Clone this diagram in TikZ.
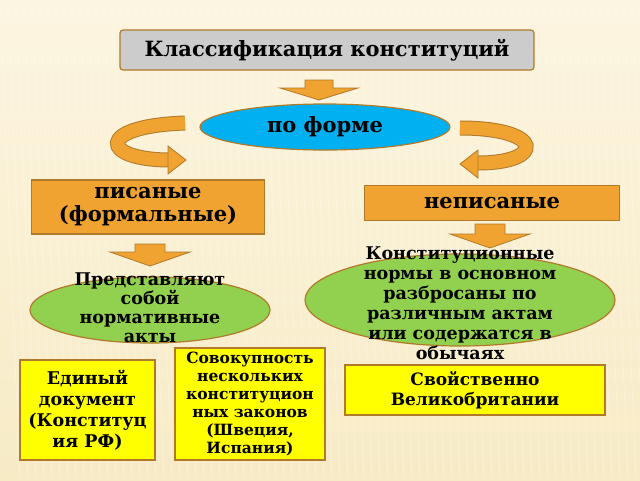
\documentclass[tikz,border=0pt]{standalone}
\usepackage{fontspec}
\setmainfont{DejaVu Serif}
\usetikzlibrary{shapes.geometric}
\definecolor{bg}{HTML}{F7EBC6}
\definecolor{bgl}{HTML}{FCF5E0}
\definecolor{edge}{HTML}{B07A2A}
\definecolor{orng}{HTML}{F0A330}
\definecolor{cyanf}{HTML}{00B0F0}
\definecolor{grn}{HTML}{92D050}
\definecolor{yel}{HTML}{FFFF00}
\tikzset{
  box/.style={draw=edge,line width=1.2pt,align=center,font=\bfseries,inner sep=2pt},
  ell/.style={ellipse,draw=edge,line width=1.2pt,align=center,font=\bfseries,inner sep=0pt},
  blk/.style={fill=orng,draw=edge,line width=0.8pt},
  band/.style={line width=15pt,draw=edge},
  bandin/.style={line width=13pt,draw=orng}
}
\begin{document}
\begin{tikzpicture}[x=1pt,y=-1pt]
\useasboundingbox (0,0) rectangle (640,480);
\shade[top color=bgl,bottom color=bg] (0,0) rectangle (640,480);
\foreach \i in {0,8,...,640} \draw[white,opacity=0.25,line width=1pt] (\i,0) -- (\i+20,480);
% title
\node[box,fill=gray!40,rounded corners=3pt,minimum width=414pt,minimum height=40pt,font=\bfseries\fontsize{21}{24}\selectfont] (title) at (327,50) {Классификация конституций};
% down arrow 1
\draw[blk] (305,80) -- (333,80) -- (333,88) -- (358,88) -- (319,100) -- (280,88) -- (305,88) -- cycle;
\node[ell,fill=cyanf,minimum width=250pt,minimum height=46pt,font=\bfseries\fontsize{21}{24}\selectfont] (forma) at (325,127) {по форме};
% curved arrows
\coordinate (la) at (185,123); \coordinate (lb) at (170,160);
\draw[band] (la) .. controls (95,126) and (100,160) .. (lb);
\draw[bandin] (la) .. controls (95,126) and (100,160) .. (lb);
\draw[blk] (168,146) -- (186,160) -- (168,174) -- cycle;
\coordinate (ra) at (460,128); \coordinate (rb) at (478,163);
\draw[band] (ra) .. controls (545,128) and (545,163) .. (rb);
\draw[bandin] (ra) .. controls (545,128) and (545,163) .. (rb);
\draw[blk] (478,150) -- (460,164) -- (478,178) -- cycle;
% second level
\node[box,fill=orng,minimum width=233pt,minimum height=54pt,font=\bfseries\fontsize{21}{23}\selectfont] (pis) at (148,207) {писаные\\(формальные)};
\node[box,fill=orng,minimum width=255pt,minimum height=35pt,font=\bfseries\fontsize{21}{23}\selectfont] (nepis) at (492,203) {неписаные};
% arrows down
\draw[blk] (135,244) -- (165,244) -- (165,252) -- (190,252) -- (150,266) -- (110,252) -- (135,252) -- cycle;
\draw[blk] (475,224) -- (505,224) -- (505,234) -- (530,234) -- (490,248) -- (450,234) -- (475,234) -- cycle;
% green ellipses
\node[ell,fill=grn,minimum width=240pt,minimum height=66pt] (le) at (150,310) {};
\node[font=\bfseries\fontsize{17.5}{19}\selectfont,align=center] (lt) at (150,308) {Представляют\\собой\\нормативные\\акты};
\node[ell,fill=grn,minimum width=310pt,minimum height=92pt] (re) at (460,300) {};
\node[font=\bfseries\fontsize{17.5}{20}\selectfont,align=center] (rt) at (460,303) {Конституционные\\нормы в основном\\разбросаны по\\различным актам\\или содержатся в\\обычаях};
% yellow boxes
\node[box,fill=yel,minimum width=135pt,minimum height=100pt,font=\bfseries\fontsize{17.5}{21}\selectfont] (ed) at (87.5,410) {Единый\\документ\\(Конституц\\ия РФ)};
\node[box,fill=yel,minimum width=150pt,minimum height=112pt,font=\bfseries\fontsize{15.5}{18}\selectfont] (sov) at (250,404) {Совокупность\\нескольких\\конституцион\\ных законов\\(Швеция,\\Испания)};
\node[box,fill=yel,minimum width=260pt,minimum height=50pt,font=\bfseries\fontsize{17}{20}\selectfont] (vb) at (475,390) {Свойственно\\Великобритании};
\end{tikzpicture}
\end{document}
